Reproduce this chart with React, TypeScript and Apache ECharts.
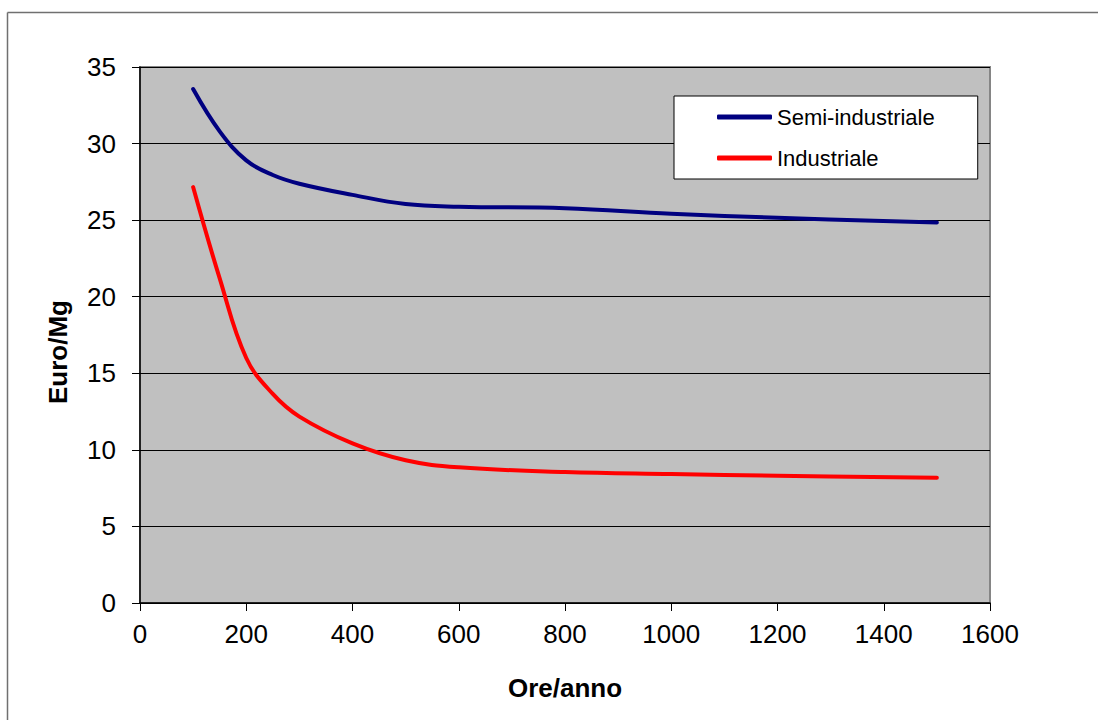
import React, { useEffect, useRef } from "react";
import * as echarts from "echarts";

const hours = [100, 150, 200, 250, 300, 400, 500, 600, 800, 1000, 1200, 1500];
const semiIndustriale = [33.56, 30.8, 28.9, 27.95, 27.38, 26.65, 26.05, 25.88, 25.78, 25.42, 25.15, 24.85];
const industriale = [27.16, 21.2, 16.0, 13.65, 12.17, 10.42, 9.32, 8.86, 8.55, 8.42, 8.31, 8.18];
const seriesNames = ["Semi-industriale", "Industriale"];
const seriesColors = ["#000080", "#FF0000"];
const xTitle = "Ore/anno";
const yTitle = "Euro/Mg";

const FONT = "'Liberation Sans', Arial, sans-serif";

export default function App() {
  const ref = useRef<HTMLDivElement>(null);
  useEffect(() => {
    if (!ref.current) return;
    const chart = echarts.init(ref.current, undefined, { renderer: "svg" });
    const pair = (vals: number[]) => hours.map((h, i) => [h, vals[i]]);
    chart.setOption({
      animation: false,
      backgroundColor: "#ffffff",
      textStyle: { fontFamily: FONT },
      graphic: [
        {
          type: "line",
          shape: { x1: 7.5, y1: 12.5, x2: 1200, y2: 12.5 },
          style: { stroke: "#707070", lineWidth: 1.5 },
          silent: true,
        },
        {
          type: "line",
          shape: { x1: 7.5, y1: 12.5, x2: 7.5, y2: 800 },
          style: { stroke: "#707070", lineWidth: 1.5 },
          silent: true,
        },
      ],
      grid: {
        left: 140,
        right: 108,
        top: 67,
        bottom: 117,
        show: true,
        backgroundColor: "#C0C0C0",
        borderColor: "#858585",
        borderWidth: 2,
      },
      legend: {
        orient: "vertical",
        left: 674,
        top: 96,
        padding: [10, 43, 10, 43],
        backgroundColor: "#ffffff",
        borderColor: "#000000",
        borderWidth: 1,
        borderRadius: 0,
        itemWidth: 55,
        itemHeight: 5,
        itemGap: 19,
        textStyle: { fontSize: 22, color: "#000", fontFamily: FONT, lineHeight: 22 },
        data: seriesNames.map((n, i) => ({
          name: n,
          icon: "roundRect",
          itemStyle: { color: seriesColors[i] },
        })),
      },
      xAxis: {
        type: "value",
        min: 0,
        max: 1600,
        interval: 200,
        name: xTitle,
        nameLocation: "middle",
        nameGap: 72,
        nameTextStyle: { fontSize: 26, fontWeight: "bold", color: "#000", fontFamily: FONT },
        axisLine: { show: true, lineStyle: { color: "#000", width: 1.5 } },
        axisTick: { show: true, length: 8, lineStyle: { color: "#000" } },
        axisLabel: {
          fontSize: 26,
          color: "#000",
          margin: 18,
          fontFamily: FONT,
          formatter: (v: number) => String(v),
        },
        splitLine: { show: false },
      },
      yAxis: {
        type: "value",
        min: 0,
        max: 35,
        interval: 5,
        name: yTitle,
        nameLocation: "middle",
        nameGap: 69,
        nameTextStyle: {
          fontSize: 26,
          fontWeight: "bold",
          color: "#000",
          fontFamily: FONT,
          padding: [0, 34, 0, 0],
        },
        axisLine: { show: true, lineStyle: { color: "#000", width: 1.5 } },
        axisTick: { show: true, length: 8, lineStyle: { color: "#000" } },
        axisLabel: {
          fontSize: 26,
          color: "#000",
          margin: 24,
          fontFamily: FONT,
          formatter: (v: number) => String(v),
        },
        splitLine: { show: true, lineStyle: { color: "#000", width: 1 } },
      },
      series: [
        {
          name: seriesNames[0],
          type: "line",
          data: pair(semiIndustriale),
          smooth: 0.4,
          symbol: "none",
          lineStyle: { color: seriesColors[0], width: 4, cap: "round", join: "round" },
          itemStyle: { color: seriesColors[0] },
          z: 3,
        },
        {
          name: seriesNames[1],
          type: "line",
          data: pair(industriale),
          smooth: 0.4,
          symbol: "none",
          lineStyle: { color: seriesColors[1], width: 4, cap: "round", join: "round" },
          itemStyle: { color: seriesColors[1] },
          z: 3,
        },
      ],
    });
    return () => chart.dispose();
  }, []);
  return (
    <div
      ref={ref}
      style={{ position: "fixed", left: 0, top: 0, width: 1098, height: 720 }}
    />
  );
}
